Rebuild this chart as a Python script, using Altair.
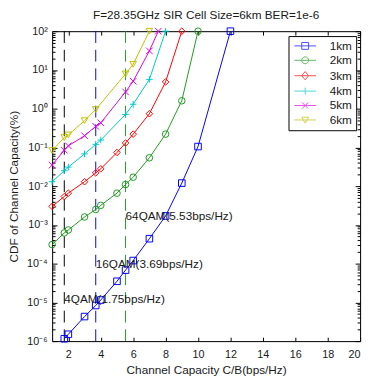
import altair as alt
import pandas as pd

FONT = "Liberation Sans"
TXT = "#1a1a1a"

# ---------------- data ----------------
series_names = ["1km", "2km", "3km", "4km", "5km", "6km"]
series_colors = ["#0000ff", "#1f9a1f", "#ff0000", "#00c8c8", "#e000e0", "#c0c000"]
series_shapes = ["square", "circle", "diamond",
                 "M-1,0L1,0M0,-1L0,1", "M-1,-1L1,1M-1,1L1,-1", "triangle-down"]
# legend symbols: a short line with the marker on it
legend_shapes = [
    "M-3.14,0L3.14,0M-1,-1L1,-1L1,1L-1,1Z",
    "M-3.14,0L3.14,0M1,0A1,1,0,1,1,-1,0A1,1,0,1,1,1,0Z",
    "M-3.14,0L3.14,0M-1,0L0,-1.2L1,0L0,1.2Z",
    "M-3.14,0L3.14,0M0,-1L0,1",
    "M-3.14,0L3.14,0M-0.9,-0.9L0.9,0.9M-0.9,0.9L0.9,-0.9",
    "M-3.14,0L3.14,0M-1,-0.8L1,-0.8L0,0.9Z",
]

x_1km = [1.75, 2, 3, 3.69, 4, 5, 5.53, 6, 7, 8, 9, 10, 12]
cdf_1km = [1.15e-6, 1.5e-6, 4.3e-6, 8.3e-6, 1.15e-5, 3.5e-5, 6.8e-5, 1.2e-4,
           4.4e-4, 1.7e-3, 1.2e-2, 0.105, 100]
x_2km = [1, 1.75, 2, 3, 3.69, 4, 5, 5.53, 6, 7, 8, 9, 10]
cdf_2km = [3.1e-4, 6.2e-4, 7.4e-4, 1.6e-3, 2.5e-3, 3.2e-3, 6.6e-3, 1.1e-2,
           1.7e-2, 5.4e-2, 0.22, 1.6, 100]
x_3km = [1, 1.75, 2, 3, 3.69, 4, 5, 5.53, 6, 7, 8, 9]
cdf_3km = [3.0e-3, 5.4e-3, 6.6e-3, 1.3e-2, 2.2e-2, 2.8e-2, 7.4e-2, 0.13,
           0.22, 0.74, 4.9, 100]
x_4km = [1, 1.75, 2, 3, 3.69, 4, 5.53, 6, 7, 8]
cdf_4km = [1.3e-2, 2.5e-2, 3.1e-2, 6.8e-2, 0.12, 0.155, 0.71, 1.3, 5.7, 100]
x_5km = [1, 1.75, 2, 3, 3.69, 4, 5.53, 6, 7, 7.55]
cdf_5km = [3.5e-2, 8.5e-2, 0.11, 0.2, 0.35, 0.43, 2.7, 5.1, 31, 100]
x_6km = [1, 1.75, 2, 3, 3.69, 5.53, 6, 7]
cdf_6km = [8.3e-2, 0.18, 0.21, 0.49, 0.95, 7.9, 14, 100]

mod_names = ["4QAM", "16QAM", "64QAM"]
mod_rates = [1.75, 3.69, 5.53]
mod_label_y = [1.2e-5, 1.0e-4, 1.7e-3]
mod_labels = ["4QAM(1.75bps/Hz)", "16QAM(3.69bps/Hz)", "64QAM(5.53bps/Hz)"]
mod_colors = ["#000000", "#0000ff", "#1f9a1f"]

x_ticks = [2, 4, 6, 8, 10, 12, 14, 16, 18, 20]
y_major = [1e-6, 1e-5, 1e-4, 1e-3, 1e-2, 1e-1, 1e0, 1e1, 1e2]
y_tick_labels = ["10⁻⁶", "10⁻⁵", "10⁻⁴", "10⁻³", "10⁻²", "10⁻¹", "10⁰", "10¹", "10²"]
y_minor_mult = [2, 3, 4, 5, 6, 7, 8, 9]

# ---------------- tables ----------------
rows = []
for name, xs_, ys_ in zip(series_names,
                          [x_1km, x_2km, x_3km, x_4km, x_5km, x_6km],
                          [cdf_1km, cdf_2km, cdf_3km, cdf_4km, cdf_5km, cdf_6km]):
    for xv, yv in zip(xs_, ys_):
        rows.append({"series": name, "capacity": xv, "cdf": yv})
df = pd.DataFrame(rows)

mod_df = pd.DataFrame({"mod": mod_names, "rate": mod_rates,
                       "ly": mod_label_y, "label": mod_labels})

y_all = sorted(y_major + [m * d for d in y_major[:-1] for m in y_minor_mult])

xs = alt.Scale(domain=[1, 20], nice=False, zero=False)
ys = alt.Scale(type="log", domain=[1e-6, 100], nice=False)

W, H = 314, 316
major_test = "abs(log(datum.value)/LN10 - round(log(datum.value)/LN10)) < 0.01"
label_expr = "[" + ",".join("'%s'" % s for s in y_tick_labels) + "][round(log(datum.value)/LN10)+6]"
y_tick_size = {"condition": {"test": major_test, "value": 5}, "value": 3}

# dashed threshold lines (no axes)
rules = alt.Chart(mod_df).mark_rule(strokeDash=[12, 7], strokeWidth=1).encode(
    x=alt.X("rate:Q", scale=xs, axis=None),
    color=alt.Color("mod:N", scale=alt.Scale(domain=mod_names, range=mod_colors), legend=None),
)

# lines, carry the labelled axes
lines = alt.Chart(df).mark_line(strokeWidth=1).encode(
    x=alt.X("capacity:Q", scale=xs, axis=alt.Axis(
        orient="bottom", values=x_ticks, ticks=False, tickSize=0, grid=False,
        domain=True, domainColor="#000", domainWidth=1,
        labelFont=FONT, labelFontSize=11, labelColor=TXT, labelPadding=8,
        title="Channel Capacity C/B(bps/Hz)", titleFont=FONT, titleFontSize=12,
        titleFontWeight="normal", titleColor=TXT, titlePadding=5)),
    y=alt.Y("cdf:Q", scale=ys, axis=alt.Axis(
        orient="left", values=y_major, labelExpr=label_expr, ticks=False, tickSize=0,
        grid=False, domain=True, domainColor="#000", domainWidth=1,
        labelFont=FONT, labelFontSize=11, labelColor=TXT, labelPadding=5,
        title="CDF of Channel Capacity(%)", titleFont=FONT, titleFontSize=12,
        titleFontWeight="normal", titleColor=TXT, titlePadding=6)),
    color=alt.Color("series:N", scale=alt.Scale(domain=series_names, range=series_colors),
                    legend=None),
)

# markers, carry inward ticks on the bottom and left edges
points = alt.Chart(df).mark_point(filled=False, strokeWidth=1, size=45, opacity=1).encode(
    x=alt.X("capacity:Q", scale=xs, axis=alt.Axis(
        orient="top", offset=-H, values=x_ticks, labels=False, domain=False,
        ticks=True, tickSize=4, tickColor="#000", grid=False, title=None)),
    y=alt.Y("cdf:Q", scale=ys, axis=alt.Axis(
        orient="right", offset=-W, values=y_all, labels=False, domain=False,
        ticks=True, tickSize=y_tick_size, tickColor="#000", grid=False, title=None)),
    color=alt.Color("series:N", scale=alt.Scale(domain=series_names, range=series_colors),
                    legend=None),
    shape=alt.Shape("series:N", scale=alt.Scale(domain=series_names, range=series_shapes),
                    legend=None),
)

# legend carrier: draws no marks, only the legend (line + marker symbols)
LEG = alt.Legend(orient="none", legendX=241, legendY=5, title=None,
                 symbolSize=49, symbolStrokeWidth=1, symbolOffset=7,
                 labelFont=FONT, labelFontSize=12, labelColor=TXT, labelOffset=19,
                 labelExpr="datum.label + '\u00a0\u00a0\u00a0'",
                 padding=4, rowPadding=2.7, fillColor="white", strokeColor="#000")
legend_layer = alt.Chart(df).transform_filter("datum.cdf > 1e9").mark_point(
    filled=False, strokeWidth=1, size=49).encode(
    x=alt.X("capacity:Q", scale=xs, axis=None),
    y=alt.Y("cdf:Q", scale=ys, axis=None),
    color=alt.Color("series:N", scale=alt.Scale(domain=series_names, range=series_colors),
                    legend=LEG),
    shape=alt.Shape("series:N", scale=alt.Scale(domain=series_names, range=legend_shapes),
                    legend=LEG),
)

# annotations, carry top frame and right frame with inward ticks
text = alt.Chart(mod_df).mark_text(align="left", baseline="middle", font=FONT,
                                   fontSize=12, color=TXT).encode(
    x=alt.X("rate:Q", scale=xs, axis=alt.Axis(
        orient="bottom", offset=-H, values=x_ticks, labels=False, domain=True,
        domainColor="#000", domainWidth=1, ticks=True, tickSize=4, tickColor="#000",
        grid=False, title=None)),
    y=alt.Y("ly:Q", scale=ys, axis=alt.Axis(
        orient="left", offset=-W, values=y_all, labels=False, domain=True,
        domainColor="#000", domainWidth=1, ticks=True, tickSize=y_tick_size,
        tickColor="#000", grid=False, title=None)),
    text="label:N",
)

chart = alt.layer(rules, lines, points, text, legend_layer).resolve_scale(
    color="independent", shape="independent"
).resolve_axis(x="independent", y="independent").properties(
    width=W, height=H,
    title=alt.TitleParams("F=28.35GHz SIR Cell Size=6km BER=1e-6", font=FONT,
                          fontSize=12, fontWeight="normal", color=TXT,
                          anchor="middle", offset=3),
    autosize=alt.AutoSizeParams(type="none"),
    padding={"left": 45, "top": 20, "right": 5, "bottom": 35},
).configure_view(stroke=None).configure(font=FONT)

chart.save("out.html", embed_options={"renderer": "svg", "actions": False})
